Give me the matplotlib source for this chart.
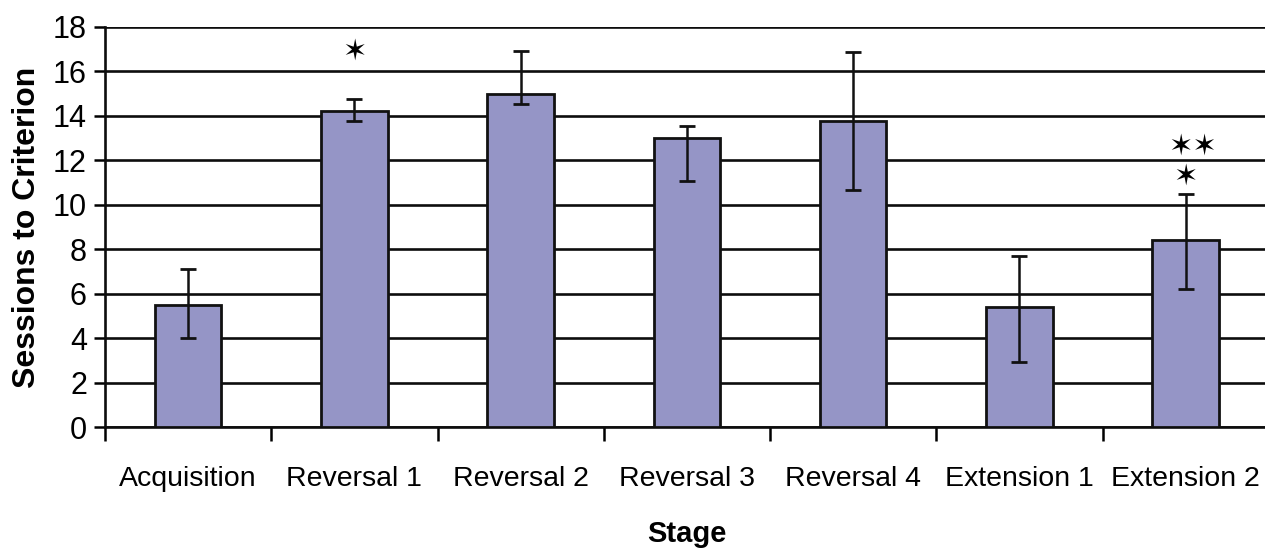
import numpy as np
import matplotlib.pyplot as plt

stages = ["Acquisition", "Reversal 1", "Reversal 2", "Reversal 3",
          "Reversal 4", "Extension 1", "Extension 2"]
sessions = [5.5, 14.2, 15.0, 13.0, 13.75, 5.4, 8.4]
err_low = [1.5, 0.45, 0.45, 1.95, 3.1, 2.45, 2.2]
err_high = [1.6, 0.55, 1.9, 0.55, 3.1, 2.3, 2.1]

# significance markers: (stage index, x offset, y position, text)
sig_marks = [(1, 0.0, 16.9, "\u2736"), (6, 0.0, 11.25, "\u2736"),
             (6, 0.04, 12.6, "\u2736\u2736")]

plt.rcParams["font.family"] = ["Liberation Sans", "DejaVu Sans"]

fig = plt.figure(figsize=(12.65, 5.49), dpi=100)
ax = fig.add_axes([0.083, 0.222, 0.92, 0.729])

x = np.arange(len(stages))
ax.bar(x, sessions, width=0.4, color="#9595c6", edgecolor="#111111",
       linewidth=2.0, zorder=3)
ax.errorbar(x, sessions, yerr=[err_low, err_high], fmt="none", ecolor="#111111",
            elinewidth=1.8, capsize=6, capthick=2.0, zorder=4)

for i, dx, y, s in sig_marks:
    ax.text(x[i] + dx, y, s, ha="center", va="center", fontsize=21,
            family="DejaVu Sans", color="black", zorder=5)

ax.set_xlim(-0.5, len(stages) - 0.5)
ax.set_ylim(0, 18)
ax.set_yticks(np.arange(0, 19, 2))
ax.yaxis.grid(True, color="#0d0d0d", linewidth=1.9, zorder=0)
ax.set_axisbelow(True)

ax.set_xticks(x)
ax.set_xticklabels(stages)
ax.set_xticks(np.arange(-0.5, len(stages), 1.0), minor=True)
ax.tick_params(axis="x", which="major", length=0, pad=28, labelsize=20.5)
ax.tick_params(axis="x", which="minor", length=10, width=1.8, direction="out")
ax.tick_params(axis="y", length=8, width=1.8, pad=5, labelsize=22)

for side in ["top", "right"]:
    ax.spines[side].set_visible(False)
for side in ["left", "bottom"]:
    ax.spines[side].set_linewidth(1.9)
    ax.spines[side].set_color("#0d0d0d")

ax.set_xlabel("Stage", fontsize=21, fontweight="bold", labelpad=20)
ax.set_ylabel("Sessions to Criterion", fontsize=23, fontweight="bold", labelpad=8)

fig.savefig("out.png", dpi=100)
